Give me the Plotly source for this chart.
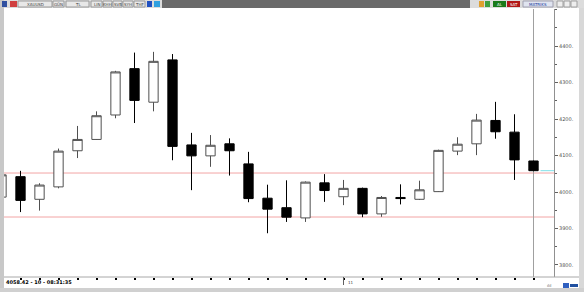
import plotly.graph_objects as go

# ---- data ----
bars = list(range(29))
opens  = [3986, 4042, 3980, 4014, 4113, 4144, 4211, 4338, 4246, 4362, 4129, 4099, 4132, 4077,
          3983, 3957, 3929, 4025, 3987, 4010, 3940, 3985, 3980, 4001, 4112, 4132, 4196, 4164, 4085]
highs  = [4050, 4058, 4024, 4119, 4181, 4221, 4332, 4382, 4384, 4378, 4162, 4156, 4147, 4110,
          4020, 4032, 4029, 4049, 4033, 4012, 3989, 4021, 4031, 4116, 4150, 4214, 4247, 4213, 4086]
lows   = [3984, 3945, 3949, 4010, 4093, 4143, 4202, 4189, 4221, 4087, 4005, 4069, 4045, 3972,
          3887, 3918, 3918, 3973, 3964, 3931, 3932, 3966, 3978, 4000, 4101, 4101, 4146, 4033, 4057]
closes = [4047, 3977, 4019, 4112, 4144, 4209, 4329, 4251, 4358, 4125, 4099, 4128, 4113, 3982,
          3953, 3931, 4027, 4004, 4010, 3940, 3985, 3982, 4006, 4114, 4131, 4197, 4165, 4088, 4058.42]
support_levels = [4052, 3931.5]
last_price = 4058.42
y_ticks = [3800, 3900, 4000, 4100, 4200, 4300, 4400]
y_ticktext = ["3800.", "3900.", "4000.", "4100.", "4200.", "4300.", "4400."]
day_label_bar = 18
day_label = "11"
info_text = "4058.42 - 10 - 08:31:35"
toolbar_left = [("XAUUSD", 18, 52), ("GÜN", 53, 64), ("TL", 66, 89), ("LIN", 91, 102),
                ("KHH", 103, 112), ("SVB", 113, 122), ("SYH", 123, 133), ("THF", 134, 145)]

W, H = 584, 292
L, R, T, B = 4, 30, 9, 15

fig = go.Figure()
fig.add_trace(go.Candlestick(
    x=bars, open=opens, high=highs, low=lows, close=closes,
    increasing=dict(line=dict(color="#505050", width=1), fillcolor="white"),
    decreasing=dict(line=dict(color="black", width=1), fillcolor="black"),
    whiskerwidth=0, showlegend=False, hoverinfo="skip",
))

shapes = []
# support / resistance lines
for lv in support_levels:
    shapes.append(dict(type="line", xref="paper", yref="y", x0=0, x1=1, y0=lv, y1=lv,
                       line=dict(color="#f2a4a4", width=1), layer="below"))
# current-bar vertical line
shapes.append(dict(type="line", xref="x", yref="paper", x0=bars[-1], x1=bars[-1], y0=0, y1=1,
                   line=dict(color="#a0a0a0", width=1), layer="below"))
# last price marker
shapes.append(dict(type="line", xref="x", yref="y", x0=bars[-1] + 0.37, x1=29.1,
                   y0=last_price, y1=last_price, line=dict(color="#80e0e8", width=1)))

# frame (pixel -> paper)
def px(x):
    return (x - L) / (W - L - R)

def py(y):
    return 1 - (y - T) / (H - T - B)

def rect(x0, y0, x1, y1, color, line=None):
    shapes.append(dict(type="rect", xref="paper", yref="paper", x0=px(x0), x1=px(x1),
                       y0=py(y1), y1=py(y0), fillcolor=color,
                       line=dict(width=0) if line is None else dict(color=line, width=1),
                       layer="above"))

rect(0, 0, W, 8, "#dcdcdc")            # toolbar
rect(162, 0, 470, 8, "#6a6a6a")        # dark toolbar band
rect(0, 0, 4, H, "#c8c8c8")            # left border
rect(579, 8, W, H, "#d8d8d8")          # right border
rect(0, 288, W, H, "#d0d0d0")          # bottom strip
rect(2, 1, 7, 7, "#3050a0")            # small icon
rect(10, 1, 17, 7, "#d04040")          # logo
for name, a, b in toolbar_left:
    rect(a, 1, b, 7, "#e8e8e8", line="#9a9a9a")
rect(147, 1, 152, 7, "#2050c0")
rect(154, 1, 160, 7, "#30a0e0")
rect(479, 1, 484, 7, "#e0a030")
rect(485, 1, 490, 7, "#40a040")
rect(493, 1, 506, 7, "#1a7a1a")
rect(507, 1, 520, 7, "#b01818")
rect(523, 1, 553, 7, "#e0e4f0", line="#a0a0b0")
for bx in (557, 564, 571):
    rect(bx, 1, bx + 6, 7, "#eeeeee", line="#a0a0a0")
rect(563, 283, 569, 288, "#3060c0")
rect(570, 284, 578, 287, "#2050a0")
# x-axis baseline across full width
shapes.append(dict(type="line", xref="paper", yref="paper", x0=px(4), x1=px(579),
                   y0=py(277), y1=py(277), line=dict(color="#a8a8a8", width=1), layer="above"))

ann = []
def text(x, y, s, color="black", size=5, anchor="left"):
    ann.append(dict(xref="paper", yref="paper", x=px(x), y=py(y), text=s, showarrow=False,
                    xanchor=anchor, yanchor="middle", font=dict(size=size, color=color,
                    family="DejaVu Sans")))

for name, a, b in toolbar_left:
    text((a + b) / 2, 4, name, color="#404040", size=4, anchor="center")
text(499.5, 4, "AL", color="white", size=4, anchor="center")
text(513.5, 4, "SAT", color="white", size=4, anchor="center")
text(538, 4, "MATRIKS", color="#2040a0", size=4, anchor="center")
text(4, 281.5, "<b>" + info_text + "</b>", size=5)
text(346, 282.5, day_label, color="#404040", size=4)
text(545, 285.5, "ılıl", color="#606060", size=4)

# day separator mark
shapes.append(dict(type="line", xref="x", yref="paper", x0=day_label_bar, x1=day_label_bar,
                   y0=py(277), y1=py(285), line=dict(color="#606060", width=1), layer="above"))

fig.update_layout(
    width=W, height=H, autosize=False,
    margin=dict(l=L, r=R, t=T, b=B, pad=0),
    paper_bgcolor="white", plot_bgcolor="white",
    shapes=shapes, annotations=ann,
    xaxis=dict(range=[(4 - 1.5) / 19, (554 - 1.5) / 19], rangeslider=dict(visible=False),
               showgrid=False, zeroline=False, showline=False,
               tickvals=bars[1:], ticks="outside", ticklen=2, tickwidth=2, tickcolor="black",
               showticklabels=False, fixedrange=True),
    yaxis=dict(range=[3767.1, 4501.4], side="right", showgrid=False, zeroline=False,
               showline=True, linecolor="#909090", linewidth=1,
               tickvals=y_ticks, ticktext=y_ticktext, ticks="outside", ticklen=3,
               tickcolor="#606060", tickfont=dict(size=5, color="#505050", family="DejaVu Sans"),
               minor=dict(ticks="outside", ticklen=2, dtick=50, tick0=3750, tickcolor="#606060"),
               fixedrange=True),
)

fig.write_html("out.html")
